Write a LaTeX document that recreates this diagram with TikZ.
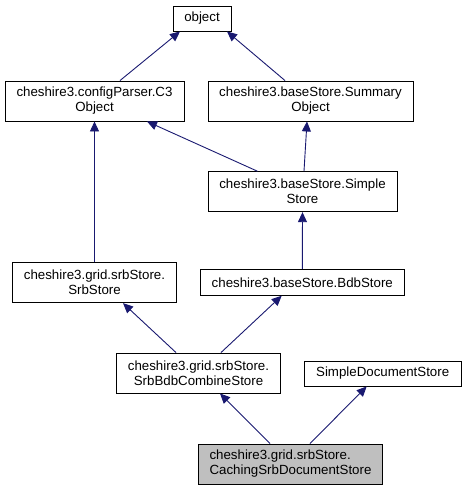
\documentclass[tikz,border=0pt]{standalone}
\usepackage{fontspec}
\setmainfont{Liberation Sans}
\usetikzlibrary{arrows.meta}
\definecolor{edgeblue}{HTML}{191970}
\definecolor{curfill}{HTML}{BFBFBF}
\begin{document}
\begin{tikzpicture}[x=1pt,y=-1pt,
  cls/.style={draw=black,line width=0.9pt,fill=white,inner sep=0pt,align=center,
    font=\fontsize{13.3}{15}\selectfont},
  cur/.style={cls,fill=curfill},
  inh/.style={draw=edgeblue,line width=0.9pt,-{Triangle[length=10pt,width=9pt]}}]
\useasboundingbox (0,0) rectangle (465,491);
\node[cls,minimum width=58pt,minimum height=25pt] (obj) at (202,18.5) {object};
\node[cls,minimum width=179pt,minimum height=40pt] (c3) at (94.5,101) {cheshire3.configParser.C3\\Object};
\node[cls,minimum width=205pt,minimum height=40pt] (sum) at (310.5,101) {cheshire3.baseStore.Summary\\Object};
\node[cls,minimum width=189pt,minimum height=40pt] (simple) at (302.5,191.7) {cheshire3.baseStore.Simple\\Store};
\node[cls,minimum width=164pt,minimum height=40pt] (srb) at (94.5,282.7) {cheshire3.grid.srbStore.\\SrbStore};
\node[cls,minimum width=204pt,minimum height=26pt] (bdb) at (302.3,282.3) {cheshire3.baseStore.BdbStore};
\node[cls,minimum width=164pt,minimum height=40pt] (comb) at (198.5,373) {cheshire3.grid.srbStore.\\SrbBdbCombineStore};
\node[cls,minimum width=157pt,minimum height=25pt] (sds) at (382.7,373.5) {SimpleDocumentStore};
\node[cur,minimum width=184pt,minimum height=40pt,align=left] (cach) at (290.5,464) {cheshire3.grid.srbStore.\\CachingSrbDocumentStore};
\draw[inh] ([xshift=25.5pt]c3.north) -- ([xshift=-22pt]obj.south);
\draw[inh] ([xshift=-25.5pt]sum.north) -- ([xshift=25pt]obj.south);
\draw[inh] (srb.north) -- (c3.south);
\draw[inh] ([xshift=-45pt]simple.north) -- ([xshift=52.5pt]c3.south);
\draw[inh] ([xshift=1.5pt]simple.north) -- ([xshift=-3.5pt]sum.south);
\draw[inh] (bdb.north) -- (simple.south);
\draw[inh] ([xshift=-22.5pt]comb.north) -- ([xshift=28.5pt]srb.south);
\draw[inh] ([xshift=22.5pt]comb.north) -- ([xshift=-20.6pt]bdb.south);
\draw[inh] ([xshift=-20.5pt]cach.north) -- ([xshift=21.5pt]comb.south);
\draw[inh] ([xshift=19.5pt]cach.north) -- ([xshift=-16pt]sds.south);
\end{tikzpicture}
\end{document}
